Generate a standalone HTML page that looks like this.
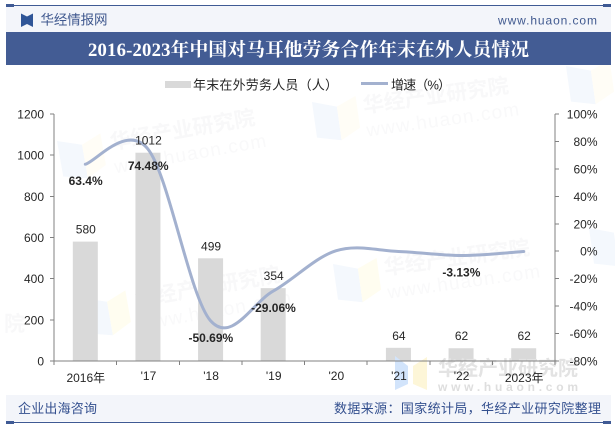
<!DOCTYPE html>
<html lang="zh">
<head>
<meta charset="utf-8">
<title>2016-2023年中国对马耳他劳务合作年末在外人员情况</title>
<style>
html,body{margin:0;padding:0;background:#fff;width:615px;height:427px;overflow:hidden}
svg{display:block}
text{font-family:"Liberation Sans","WenQuanYi Zen Hei","Noto Sans CJK SC",sans-serif}
.cjk{font-family:"Liberation Sans","Noto Sans CJK SC",sans-serif}
.tick{font-size:12px;fill:#262626}
.val{font-size:12px;fill:#262626;text-anchor:middle}
.pct{font-size:12px;fill:#262626;font-weight:bold;text-anchor:middle}
.wm{font-family:"Liberation Sans","Noto Sans CJK SC",sans-serif;font-weight:bold;font-size:21px;fill:#f8f8f9}
.wmu{font-size:19px;fill:#f9f9fa;letter-spacing:1.2px}
</style>
</head>
<body>
<svg id="chart" width="615" height="427" viewBox="0 0 615 427" xmlns="http://www.w3.org/2000/svg">
  <g>
    <g transform="translate(57,141) rotate(-10)">
      <polygon points="0,0 24,8 24,42 0,36" fill="#f4f8fd"/>
      <polygon points="24,8 44,0 44,32 24,42" fill="#fffdf6"/>
      <text class="wm" x="52" y="18">华经产业研究院</text>
      <text class="wmu" x="52" y="42">www.huaon.com</text>
    </g>
    <g transform="translate(312,102) rotate(-8)">
      <polygon points="0,0 24,8 24,42 0,36" fill="#f4f8fd"/>
      <polygon points="24,8 44,0 44,32 24,42" fill="#fffdf6"/>
      <text class="wm" x="50" y="18">华经产业研究院</text>
      <text class="wmu" x="50" y="42">www.huaon.com</text>
    </g>
    <g transform="translate(82,298) rotate(-10)">
      <polygon points="0,0 24,8 24,42 0,36" fill="#f4f8fd"/>
      <polygon points="24,8 44,0 44,32 24,42" fill="#fffdf0"/>
      <text class="wm" x="52" y="18">华经产业研究院</text>
      <text class="wmu" x="52" y="42">www.huaon.com</text>
    </g>
    <g transform="translate(333,264) rotate(-8)">
      <polygon points="0,0 24,8 24,42 0,36" fill="#f4f8fd"/>
      <polygon points="24,8 44,0 44,32 24,42" fill="#fffdf0"/>
      <text class="wm" x="50" y="18">华经产业研究院</text>
      <text class="wmu" x="50" y="42">www.huaon.com</text>
    </g>
    <g transform="translate(566,66) rotate(-8)">
      <polygon points="0,0 24,8 24,42 0,36" fill="#f4f8fd"/>
      <polygon points="24,8 44,0 44,32 24,42" fill="#fffdf6"/>
    </g>
    <g transform="translate(589,228) rotate(-8)">
      <polygon points="0,0 24,8 24,42 0,36" fill="#f4f8fd"/>
    </g>
    <text class="wm" x="4" y="331">院</text>
  </g>

  <rect x="6" y="6" width="605" height="26" fill="#f3f5fa"/>
  <line x1="6" y1="5.5" x2="611" y2="5.5" stroke="#3f5a94" stroke-width="1"/>
  <rect x="6" y="4" width="8" height="3" fill="#3f5a94"/>
  <rect x="603" y="4" width="8" height="3" fill="#3f5a94"/>
  <g>
    <polygon points="21,13.5 27,16.5 27,24 21,27" fill="#2f5597"/>
    <polygon points="33,13.5 27,16.5 27,24 33,27" fill="#2f5597"/>
  </g>
  <text class="cjk" x="40.5" y="24.5" font-size="13.5" fill="#40598f" textLength="67">华经情报网</text>
  <text x="498" y="24.5" font-size="12" fill="#40598f" textLength="99">www.huaon.com</text>

  <rect x="6" y="32" width="605" height="33" fill="#435c94"/>
  <text x="88" y="56" font-size="18.7" font-weight="bold" fill="#fff" style="font-family:'Liberation Serif','Noto Serif CJK SC',serif" textLength="441">2016-2023年中国对马耳他劳务合作年末在外人员情况</text>

  <g>
    <rect x="165" y="81" width="26" height="7" fill="#d9d9d9"/>
    <text class="cjk" x="193" y="89.5" font-size="13" fill="#262626" textLength="145">年末在外劳务人员（人）</text>
    <line x1="361" y1="83.5" x2="388" y2="83.5" stroke="#a3b1cf" stroke-width="3"/>
    <text class="cjk" x="391" y="89.5" font-size="13" fill="#262626" textLength="60">增速（%）</text>
  </g>

  <g id="plot"></g>

  <rect x="6" y="395" width="605" height="26.5" fill="#f3f5fa"/>
  <line x1="6" y1="422.5" x2="611" y2="422.5" stroke="#3f5a94" stroke-width="1"/>
  <rect x="6" y="421" width="8" height="3" fill="#3f5a94"/>
  <rect x="603" y="421" width="8" height="3" fill="#3f5a94"/>
  <text class="cjk" x="18" y="413" font-size="13" fill="#34508f" textLength="79">企业出海咨询</text>
  <text class="cjk" x="334" y="413" font-size="13" fill="#34508f" textLength="267">数据来源：国家统计局，华经产业研究院整理</text>
</svg>

<script>
var categories = ["2016年", "'17", "'18", "'19", "'20", "'21", "'22", "2023年"];
var workers = [580, 1012, 499, 354, null, 64, 62, 62];
var growth = [63.4, 74.48, -50.69, -29.06, 0.3, -0.2, -3.13, -0.2];
var growthLabels = ["63.4%", "74.48%", "-50.69%", "-29.06%", null, null, "-3.13%", null];
var leftTicks = [0, 200, 400, 600, 800, 1000, 1200];
var rightTicks = [-80, -60, -40, -20, 0, 20, 40, 60, 80, 100];

var NS = 'http://www.w3.org/2000/svg';
var plot = document.getElementById('plot');
var LEFT = 54, RIGHT = 555, TOP = 114, BOTTOM = 361;

function xBand(i) { return LEFT + (RIGHT - LEFT) * i / categories.length; }
function xCenter(i) { return xBand(i + 0.5); }
function yLeft(v) { return BOTTOM - (v - 0) / (1200 - 0) * (BOTTOM - TOP); }
function yRight(v) { return BOTTOM - (v + 80) / (100 + 80) * (BOTTOM - TOP); }

function make(tag, props, text) {
  var el = document.createElementNS(NS, tag);
  for (var k in props) { el.setAttribute(k, props[k]); }
  if (text !== undefined) { el.textContent = text; }
  plot.appendChild(el);
  return el;
}

workers.forEach(function (v, i) {
  if (v === null) { return; }
  var y = yLeft(v);
  var bar = make('rect', { x: xCenter(i) - 12.5, y: y, width: 25, height: BOTTOM - y, fill: '#d9d9d9' });
  
  
});

var fgBlue = make('polygon', { points: '395,356 408,366 408,384 395,390', fill: '#d2e4fb' });


var fgYellow = make('polygon', { points: '427,357 413,366 413,384 427,390', fill: '#fdf6d8' });


var fgText = make('text', { 'class': 'cjk', x: 438, y: 375, 'font-size': 20, 'font-weight': 'bold', fill: '#e3e3e3', textLength: 140 }, '华经产业研究院');


var fgUrl = make('text', { x: 438, y: 391, 'font-size': 12, 'font-weight': 'bold', fill: '#dedede', textLength: 140 }, 'www.huaon.com');



var axisStyle = { stroke: '#808080', 'stroke-width': 1, 'shape-rendering': 'crispEdges' };
function axisLine(x1, y1, x2, y2) {
  var p = { x1: x1, y1: y1, x2: x2, y2: y2 };
  for (var k in axisStyle) { p[k] = axisStyle[k]; }
  return make('line', p);
}

var axL = axisLine(LEFT, TOP, LEFT, BOTTOM);


var axR = axisLine(RIGHT, TOP, RIGHT, BOTTOM);


var axB = axisLine(LEFT, BOTTOM, RIGHT, BOTTOM);



leftTicks.forEach(function (v) {
  var y = yLeft(v);
  var t = axisLine(LEFT - 4, y, LEFT, y);
  
  
  var lb = make('text', { 'class': 'tick', x: 44, y: y + 4.5, 'text-anchor': 'end' }, String(v));
  
  
});

rightTicks.forEach(function (v) {
  var y = yRight(v);
  var t = axisLine(RIGHT, y, RIGHT + 4, y);
  
  
  var lb = make('text', { 'class': 'tick', x: 597.5, y: y + 4.5, 'text-anchor': 'end' }, v + '%');
  
  
});

for (var b = 0; b <= categories.length; b++) {
  var bt = axisLine(xBand(b), BOTTOM, xBand(b), BOTTOM + 4);
  
  
}

categories.forEach(function (c, i) {
  var wide = c.length > 3;
  var lb = make('text', { 'class': 'tick', x: xCenter(i) + 0.5, y: wide ? 382 : 380, 'text-anchor': 'middle' }, c);
  
  
});

var pts = growth.map(function (v, i) { return [xCenter(i), yRight(v)]; });
var d = 'M' + pts[0][0] + ',' + pts[0][1];
for (var i = 0; i < pts.length - 1; i++) {
  var p0 = pts[Math.max(i - 1, 0)], p1 = pts[i], p2 = pts[i + 1], p3 = pts[Math.min(i + 2, pts.length - 1)];
  d += ' C' + (p1[0] + (p2[0] - p0[0]) / 6) + ',' + (p1[1] + (p2[1] - p0[1]) / 6) +
       ' ' + (p2[0] - (p3[0] - p1[0]) / 6) + ',' + (p2[1] - (p3[1] - p1[1]) / 6) +
       ' ' + p2[0] + ',' + p2[1];
}
var line = make('path', { d: d, fill: 'none', stroke: '#a3b1cf', 'stroke-width': 3, 'stroke-linecap': 'round' });



workers.forEach(function (v, i) {
  if (v === null) { return; }
  var lb = make('text', { 'class': 'val', x: xCenter(i) + 0.5, y: yLeft(v) - 8 }, String(v));
  
  
});

growthLabels.forEach(function (s, i) {
  if (s === null) { return; }
  var lb = make('text', { 'class': 'pct', x: xCenter(i) + 0.3, y: yRight(growth[i]) + 21 }, s);
  
  
});
</script>
</body>
</html>
